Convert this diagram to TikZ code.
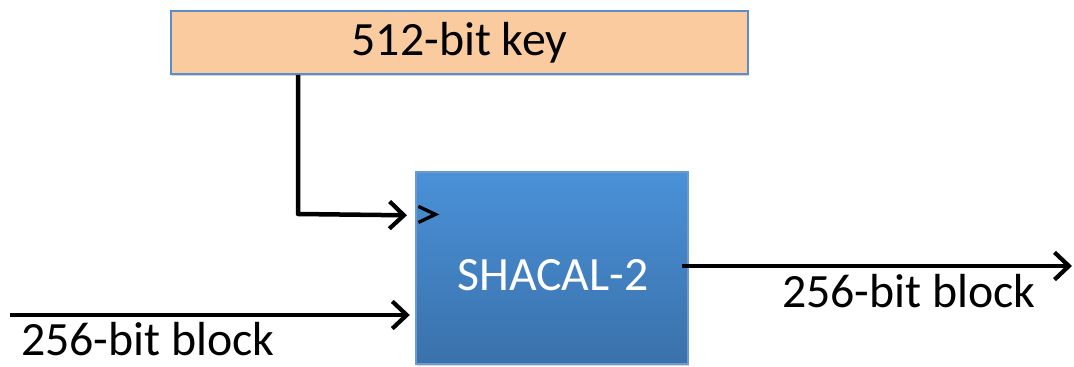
\documentclass[tikz,border=0pt]{standalone}
\usepackage{fontspec}
\setmainfont{Carlito}
\usepackage{xcolor}
\usepackage{tikz}
\usetikzlibrary{arrows.meta, positioning, calc, shadows}

\definecolor{keyfill}{HTML}{FBCBA0}
\definecolor{keyedge}{HTML}{5B8DCB}
\definecolor{boxtop}{HTML}{4A91D8}
\definecolor{boxbot}{HTML}{3A71AB}
\definecolor{boxedge}{HTML}{6A9AD0}

\begin{document}
\begin{tikzpicture}[x=0.025cm, y=-0.025cm,
        keybox/.style={rectangle, draw=keyedge, fill=keyfill, line width=1.2pt, minimum width=14.425cm, minimum height=1.575cm, inner sep=0pt, drop shadow={shadow xshift=1pt, shadow yshift=-1.5pt, opacity=0.35}, font=\fontsize{34}{40}\selectfont},
        cipher/.style={rectangle, draw=boxedge, line width=0.8pt, top color=boxtop, bottom color=boxbot, minimum width=6.8cm, minimum height=4.8cm, inner sep=0pt, drop shadow={shadow xshift=1pt, shadow yshift=-1.5pt, opacity=0.3}, text=white, font=\fontsize{34}{40}\selectfont},
        wire/.style={-{Straight Barb[length=3.6mm, width=6.8mm, line width=3pt]}, line width=3.2pt, line join=round},
        lbl/.style={inner sep=0pt, font=\fontsize{34}{40}\selectfont}
    ]
        \useasboundingbox (0,0) rectangle (1074,367);

        % Blocks
        \node[keybox] (key) at (459.5,42.5) {512-bit key};
        \node[cipher] (shacal) at (552,268) {};
        \node[text=white, inner sep=0pt, font=\fontsize{34}{40}\selectfont] (name) at (553,275) {SHACAL-2};

        % Ports
        \coordinate (kbend) at (298,214);
        \coordinate (kin) at ($(shacal.north west)+(0,44)$);
        \coordinate (bin) at (10,315);
        \coordinate (bout) at (1072,266);

        % Key path
        \draw[wire, shorten >=6pt] (kbend |- key.south) -- (kbend) -- (kin);

        % Clock mark
        \draw[line width=2.4pt, line join=miter] ($(kin)+(3,-9)$) -- ($(kin)+(20,-1)$) -- ($(kin)+(3,7)$);

        % Data in / out
        \draw[wire, shorten >=4pt] (bin) -- (bin -| shacal.west);
        \draw[wire, shorten <=-5pt] (shacal.east |- bout) -- (bout);

        % Labels
        \node[lbl] (inlbl) at (148,339) {256-bit block};
        \node[lbl] (outlbl) at (909,291) {256-bit block};

    \end{tikzpicture}
\end{document}
